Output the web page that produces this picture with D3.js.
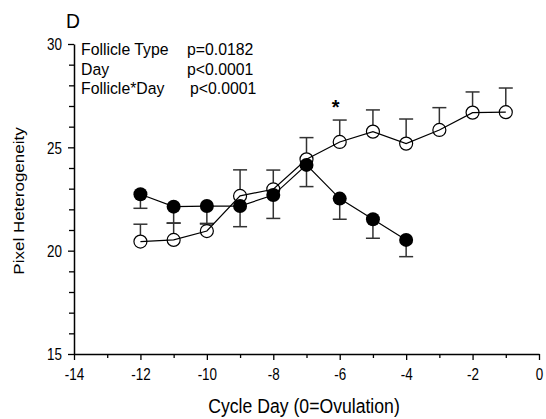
<!DOCTYPE html>
<html>
<head>
<meta charset="utf-8">
<script src="https://cdn.jsdelivr.net/npm/d3@7"></script>
<style>
  body { margin: 0; background: #fff; }
  text { font-family: "Liberation Sans", Arial, sans-serif; fill: #000; }
</style>
</head>
<body>
<div id="chart"></div>
<script>
// Cycle days and heterogeneity values
const openDays = [-12, -11, -10, -9, -8, -7, -6, -5, -4, -3, -2, -1];
const openMean = [20.44, 20.52, 20.95, 22.65, 22.97, 24.42, 25.26, 25.76, 25.18, 25.84, 26.68, 26.7];
const openErr  = [0.84, 0.82, 0.37, 1.26, 0.93, 1.05, 1.06, 1.05, 1.19, 1.08, 1.0, 1.17];

const filledDays = [-12, -11, -10, -9, -8, -7, -6, -5, -4];
const filledMean = [22.73, 22.13, 22.16, 22.16, 22.69, 24.15, 22.52, 21.52, 20.52];
const filledErr  = [0.68, 0.8, 0.87, 1.0, 1.13, 1.05, 1.0, 0.92, 0.81];

const xTicks = [-14, -12, -10, -8, -6, -4, -2, 0];
const yTicks = [15, 20, 25, 30];

const statLabels = ["Follicle Type", "Day", "Follicle*Day"];
const statValues = ["p=0.0182", "p<0.0001", "p<0.0001"];
const starDay = -6;

const width = 546, height = 419;
const squeeze = 0.84; // text in the source is narrower than normal

const svg = d3.select("#chart").append("svg")
    .attr("width", width)
    .attr("height", height);

const x = d3.scaleLinear().domain([-14, 0]).range([74, 539]);
const y = d3.scaleLinear().domain([15, 30]).range([354, 44]);

// Axes
const xAxis = svg.append("g")
    .attr("transform", `translate(0,${y(15)})`)
    .call(d3.axisBottom(x).tickValues(xTicks).tickSize(6).tickSizeOuter(0).tickFormat(d => d));
svg.append("g")
    .attr("transform", `translate(0,${y(15)})`)
    .call(d3.axisBottom(x).tickValues(d3.range(-13, 0, 2)).tickSize(4).tickFormat(""))
    .select(".domain").remove();

const yAxis = svg.append("g")
    .attr("transform", `translate(${x(-14)},0)`)
    .call(d3.axisLeft(y).tickValues(yTicks).tickSize(6).tickSizeOuter(0));
svg.append("g")
    .attr("transform", `translate(${x(-14)},0)`)
    .call(d3.axisLeft(y).tickValues(d3.range(16, 30).filter(v => v % 5 !== 0)).tickSize(5).tickFormat(""))
    .select(".domain").remove();

svg.selectAll(".domain").attr("stroke", "#000").attr("stroke-width", 1.5);
svg.selectAll(".tick line").attr("stroke", "#000").attr("stroke-width", 1.3);
xAxis.selectAll("text")
    .attr("font-size", 16).attr("y", 26).attr("dy", 0)
    .attr("transform", `scale(${squeeze},1)`);
yAxis.selectAll("text")
    .attr("font-size", 16).attr("x", -12 / squeeze).attr("dy", "0.36em")
    .attr("transform", `scale(${squeeze},1)`);

// Axis titles
svg.append("text")
    .attr("transform", `translate(304,413) scale(${squeeze},1)`)
    .attr("text-anchor", "middle")
    .attr("font-size", 21)
    .text("Cycle Day (0=Ovulation)");

svg.append("text")
    .attr("transform", `translate(24,201) rotate(-90) scale(1,${squeeze})`)
    .attr("text-anchor", "middle")
    .attr("font-size", 17)
    .text("Pixel Heterogeneity");

svg.append("text")
    .attr("transform", `translate(66,28) scale(0.92,1)`)
    .attr("font-size", 21)
    .text("D");

// Stats annotation
const stats = svg.append("g");
statLabels.forEach((s, i) => {
    stats.append("text")
        .attr("transform", `translate(81,${55 + i * 19.5}) scale(0.93,1)`)
        .attr("font-size", 17).text(s);
    stats.append("text")
        .attr("transform", `translate(${i === 2 ? 190 : 187},${55 + i * 19.5}) scale(0.93,1)`)
        .attr("font-size", 17).text(statValues[i]);
});

const r = 6.5, cap = 7;
const lineGen = d3.line().x(d => x(d[0])).y(d => y(d[1]));
const openPts = openDays.map((d, i) => [d, openMean[i], openErr[i]]);
const filledPts = filledDays.map((d, i) => [d, filledMean[i], filledErr[i]]);

// Error bars: open series upward, filled series downward
function errorBars(pts, dir) {
    const g = svg.append("g").attr("stroke", "#333").attr("stroke-width", 1.5);
    g.selectAll("line.v").data(pts).enter().append("line")
        .attr("x1", d => x(d[0])).attr("x2", d => x(d[0]))
        .attr("y1", d => y(d[1])).attr("y2", d => y(d[1] + dir * d[2]));
    g.selectAll("line.c").data(pts).enter().append("line")
        .attr("x1", d => x(d[0]) - cap).attr("x2", d => x(d[0]) + cap)
        .attr("y1", d => y(d[1] + dir * d[2])).attr("y2", d => y(d[1] + dir * d[2]));
}
errorBars(openPts, 1);
errorBars(filledPts, -1);

svg.append("g").selectAll("circle").data(openPts).enter().append("circle")
    .attr("cx", d => x(d[0])).attr("cy", d => y(d[1])).attr("r", r)
    .attr("fill", "#fff").attr("stroke", "#000").attr("stroke-width", 1.2);

svg.append("g").selectAll("circle").data(filledPts).enter().append("circle")
    .attr("cx", d => x(d[0])).attr("cy", d => y(d[1])).attr("r", r + 0.5)
    .attr("fill", "#000");

svg.append("path").datum(openPts).attr("d", lineGen)
    .attr("fill", "none").attr("stroke", "#000").attr("stroke-width", 1.2);
svg.append("path").datum(filledPts).attr("d", lineGen)
    .attr("fill", "none").attr("stroke", "#000").attr("stroke-width", 1.2);

// Significance marker
const si = openDays.indexOf(starDay);
svg.append("text")
    .attr("x", x(starDay) - 4).attr("y", y(openMean[si] + openErr[si]) - 6)
    .attr("text-anchor", "middle")
    .attr("font-size", 20)
    .attr("font-weight", "bold")
    .text("*");
</script>
</body>
</html>
